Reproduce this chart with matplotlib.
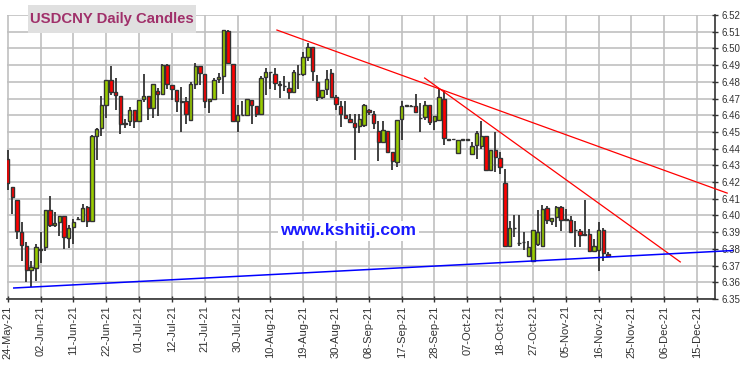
import numpy as np
import pandas as pd
import matplotlib
matplotlib.use('Agg')
import matplotlib.pyplot as plt
import matplotlib.patches as patches

plt.rcParams['font.family'] = 'Liberation Sans'

# daily USDCNY candles (trading days from 24-May-21)
opens = [6.4336, 6.4172, 6.4094, 6.3902, 6.3820, 6.3674, 6.3686, 6.3794, 6.3810, 6.4034,
         6.3944, 6.3964, 6.3998, 6.3864, 6.3932, 6.3978, 6.3968, 6.4048, 6.3968, 6.4476,
         6.4526, 6.4664, 6.4808, 6.4738, 6.4718, 6.4556, 6.4564, 6.4634, 6.4568, 6.4696,
         6.4718, 6.4646, 6.4748, 6.4730, 6.4900, 6.4784, 6.4754, 6.4686, 6.4684, 6.4574,
         6.4790, 6.4894, 6.4844, 6.4684, 6.4700, 6.4816, 6.4834, 6.5104, 6.4904, 6.4564,
         6.4602, 6.4604, 6.4694, 6.4658, 6.4610, 6.4826, 6.4860, 6.4848, 6.4788, 6.4778,
         6.4766, 6.4742, 6.4844, 6.4844, 6.4946, 6.5010, 6.4800, 6.4710, 6.4760, 6.4850,
         6.4708, 6.4654, 6.4600, 6.4578, 6.4556, 6.4534, 6.4544, 6.4634, 6.4610, 6.4508,
         6.4440, 6.4508, 6.4380, 6.4320, 6.4580, 6.4658, 6.4656, 6.4654, 6.4586, 6.4590,
         6.4660, 6.4564, 6.4574, 6.4700, 6.4454, 6.4458, 6.4374, 6.4454, 6.4454, 6.4370,
         6.4424, 6.4414, 6.4474, 6.4274, 6.4390, 6.4344, 6.4194, 6.3820, 6.3926, 6.3836,
         6.3840, 6.3760, 6.3726, 6.3830, 6.3820, 6.4044, 6.3966, 6.3990, 6.4050, 6.3976,
         6.3974, 6.3914, 6.3906, 6.3890, 6.3890, 6.3790, 6.3794, 6.3914, 6.3770]
highs = [6.4390, 6.4172, 6.4094, 6.3964, 6.3840, 6.3728, 6.3830, 6.3904, 6.4034, 6.4114,
         6.4020, 6.3998, 6.3998, 6.3944, 6.3976, 6.3988, 6.4070, 6.4056, 6.4484, 6.4524,
         6.4714, 6.4808, 6.4894, 6.4824, 6.4718, 6.4580, 6.4648, 6.4634, 6.4690, 6.4844,
         6.4718, 6.4790, 6.4764, 6.4904, 6.4904, 6.4784, 6.4754, 6.4768, 6.4710, 6.4800,
         6.4914, 6.4894, 6.4844, 6.4700, 6.4820, 6.4850, 6.5110, 6.5108, 6.4904, 6.4664,
         6.4684, 6.4700, 6.4694, 6.4658, 6.4834, 6.4884, 6.4860, 6.4880, 6.4806, 6.4834,
         6.4800, 6.4870, 6.4900, 6.4980, 6.5030, 6.5010, 6.4840, 6.4754, 6.4870, 6.4876,
         6.4720, 6.4686, 6.4686, 6.4606, 6.4610, 6.4610, 6.4670, 6.4640, 6.4624, 6.4564,
         6.4568, 6.4508, 6.4380, 6.4574, 6.4684, 6.4660, 6.4660, 6.4730, 6.4674, 6.4686,
         6.4660, 6.4594, 6.4756, 6.4744, 6.4456, 6.4460, 6.4450, 6.4456, 6.4456, 6.4440,
         6.4504, 6.4568, 6.4474, 6.4390, 6.4500, 6.4380, 6.4280, 6.3966, 6.4000, 6.4000,
         6.3900, 6.3850, 6.3914, 6.4034, 6.4060, 6.4054, 6.3986, 6.4054, 6.4054, 6.4036,
         6.3996, 6.3966, 6.3920, 6.4090, 6.3920, 6.3860, 6.3964, 6.3926, 6.3784]
lows = [6.4154, 6.4006, 6.3860, 6.3726, 6.3600, 6.3570, 6.3606, 6.3716, 6.3788, 6.3934,
        6.3930, 6.3880, 6.3800, 6.3804, 6.3828, 6.3976, 6.3968, 6.3930, 6.3968, 6.4334,
        6.4476, 6.4586, 6.4724, 6.4634, 6.4490, 6.4524, 6.4538, 6.4526, 6.4568, 6.4680,
        6.4574, 6.4586, 6.4596, 6.4730, 6.4760, 6.4690, 6.4620, 6.4500, 6.4546, 6.4574,
        6.4760, 6.4784, 6.4644, 6.4616, 6.4700, 6.4792, 6.4728, 6.4910, 6.4560, 6.4500,
        6.4600, 6.4604, 6.4550, 6.4590, 6.4610, 6.4720, 6.4756, 6.4750, 6.4704, 6.4746,
        6.4700, 6.4742, 6.4756, 6.4834, 6.4926, 6.4806, 6.4686, 6.4700, 6.4720, 6.4710,
        6.4630, 6.4530, 6.4586, 6.4556, 6.4334, 6.4494, 6.4530, 6.4600, 6.4520, 6.4326,
        6.4440, 6.4374, 6.4274, 6.4290, 6.4454, 6.4654, 6.4652, 6.4620, 6.4500, 6.4574,
        6.4540, 6.4514, 6.4574, 6.4424, 6.4452, 6.4454, 6.4374, 6.4452, 6.4452, 6.4370,
        6.4340, 6.4400, 6.4264, 6.4264, 6.4260, 6.4250, 6.3810, 6.3810, 6.3870, 6.3820,
        6.3794, 6.3760, 6.3726, 6.3820, 6.3820, 6.3950, 6.3944, 6.3934, 6.3910, 6.3970,
        6.3904, 6.3814, 6.3810, 6.3880, 6.3784, 6.3784, 6.3666, 6.3726, 6.3754]
closes = [6.4196, 6.4110, 6.3906, 6.3824, 6.3674, 6.3694, 6.3814, 6.3800, 6.4034, 6.3944,
          6.3956, 6.3998, 6.3872, 6.3928, 6.3964, 6.3980, 6.4046, 6.3968, 6.4474, 6.4520,
          6.4664, 6.4808, 6.4740, 6.4722, 6.4550, 6.4550, 6.4634, 6.4568, 6.4690, 6.4718,
          6.4646, 6.4790, 6.4730, 6.4900, 6.4790, 6.4760, 6.4688, 6.4682, 6.4610, 6.4786,
          6.4894, 6.4850, 6.4684, 6.4700, 6.4808, 6.4828, 6.5110, 6.4910, 6.4568, 6.4604,
          6.4604, 6.4700, 6.4664, 6.4610, 6.4820, 6.4860, 6.4858, 6.4796, 6.4784, 6.4774,
          6.4742, 6.4856, 6.4848, 6.4946, 6.5010, 6.4864, 6.4710, 6.4754, 6.4814, 6.4710,
          6.4670, 6.4606, 6.4586, 6.4562, 6.4530, 6.4578, 6.4660, 6.4622, 6.4556, 6.4440,
          6.4514, 6.4380, 6.4326, 6.4574, 6.4654, 6.4658, 6.4658, 6.4620, 6.4584, 6.4660,
          6.4560, 6.4594, 6.4710, 6.4464, 6.4456, 6.4456, 6.4450, 6.4454, 6.4454, 6.4418,
          6.4494, 6.4474, 6.4274, 6.4390, 6.4350, 6.4290, 6.3820, 6.3926, 6.3924, 6.3836,
          6.3840, 6.3814, 6.3914, 6.3900, 6.4040, 6.3970, 6.3986, 6.4050, 6.3970, 6.3974,
          6.3904, 6.3912, 6.3884, 6.3884, 6.3790, 6.3820, 6.3914, 6.3776, 6.3758]

# trend lines (bar index, price)
res1_x, res1_y = [57.4, 153.4], [6.5110, 6.4134]
res2_x, res2_y = [88.9, 143.4], [6.4823, 6.3722]
sup_x, sup_y = [1.3, 154.5], [6.3566, 6.3790]

y_ticks = np.round(np.arange(6.35, 6.5201, 0.01), 2)
dates = pd.bdate_range('2021-05-24', periods=151)

o = np.array(opens)
h = np.array(highs)
l = np.array(lows)
c = np.array(closes)
idx = np.arange(len(o))

fig = plt.figure(figsize=(7.5, 3.66), dpi=100)
ax = fig.add_axes([0.0093, 0.183, 0.9440, 0.776])

up = c >= o
col = np.where(up, '#99cc00', '#ff0000')
ax.vlines(idx, l, h, color='#333333', linewidth=1.3, zorder=2)
body_bot = np.minimum(o, c)
body_h = np.maximum(np.abs(c - o), 0.0002)
ax.bar(idx, body_h, bottom=body_bot, width=0.72, color=col,
       edgecolor='#333333', linewidth=1.0, zorder=3)

ax.plot(res1_x, res1_y, color='#ff0000', linewidth=0.9, clip_on=False, zorder=4)
ax.plot(res2_x, res2_y, color='#ff0000', linewidth=0.9, clip_on=False, zorder=4)
ax.plot(sup_x, sup_y, color='#0000ff', linewidth=1.1, clip_on=False, zorder=4)

ax.set_xlim(-0.15, 150.8)
ax.set_ylim(6.35, 6.52)

tick_pos = np.arange(0, 151, 7)
ax.set_xticks(tick_pos)
ax.set_xticklabels([dates[i].strftime('%d-%b-%y') for i in tick_pos],
                   rotation=90, fontsize=8, color='#333333')
ax.set_yticks(y_ticks)
ax.set_yticklabels(['%.2f' % v for v in y_ticks], fontsize=7, color='#333333')
ax.yaxis.tick_right()
ax.tick_params(axis='both', direction='inout', length=5, width=1, color='#333333', pad=2)

ax.grid(True, color='#c0c0c0', linewidth=1.2, zorder=0)
ax.set_axisbelow(True)
for s in ['left', 'top']:
    ax.spines[s].set_visible(False)
for s in ['right', 'bottom']:
    ax.spines[s].set_color('#333333')
    ax.spines[s].set_linewidth(1.2)

# title box
fig.add_artist(patches.Rectangle((0.0373, 0.9098), 0.224, 0.0765, transform=fig.transFigure,
                                 facecolor='#e0e0e0', edgecolor='none', zorder=5))
fig.text(0.1493, 0.937, 'USDCNY Daily Candles', fontsize=10.7, fontweight='bold',
         color='#a0306a', ha='center', va='baseline', zorder=6)

ax.text(0.4647, 0.369, 'www.kshitij.com', transform=fig.transFigure, fontsize=12.5,
        fontweight='bold', color='#1a1aff', ha='center', va='center', zorder=5,
        bbox=dict(facecolor='white', edgecolor='none', pad=2))

fig.savefig('out.png', dpi=100)
